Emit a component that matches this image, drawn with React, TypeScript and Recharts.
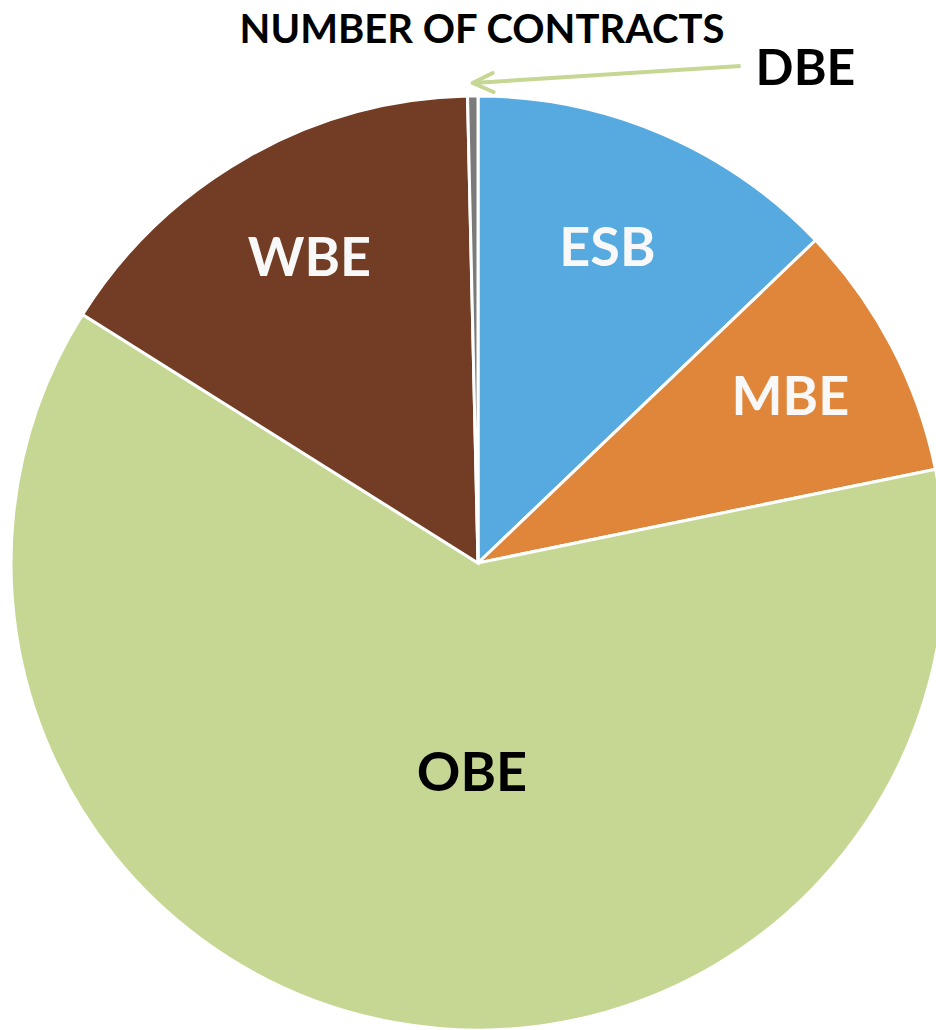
import React from "react"
import { Cell, Pie, PieChart } from "recharts"

// contract counts by business type (clockwise from 12 o'clock)
const categories = ["ESB", "MBE", "OBE", "WBE", "DBE"]
const contractCounts = [36, 25, 174, 44, 1]
const sliceColors = ["#56AADF", "#E0863A", "#C5D793", "#723D24", "#7B7B7B"]
const labelColors = ["#F8F8F8", "#F8F8F8", "#000000", "#F8F8F8", "#000000"]

const chartData = categories.map((name, i) => ({ name, value: contractCounts[i] }))

const RAD = Math.PI / 180
const FONT = "Lato, 'Open Sans', sans-serif"

// where each label sits: fraction of the radius and a small angle nudge
const labelPlacement: Record<string, { r: number; shift: number }> = {
  ESB: { r: 0.735, shift: 1 },
  MBE: { r: 0.76, shift: 0.7 },
  OBE: { r: 0.445, shift: 8.6 },
  WBE: { r: 0.75, shift: -0.8 },
}

function polar(cx: number, cy: number, r: number, angle: number) {
  return { x: cx + r * Math.cos(-angle * RAD), y: cy + r * Math.sin(-angle * RAD) }
}

function renderLabel(props: any) {
  const { cx, cy, midAngle, outerRadius, index } = props
  const name = categories[index]

  if (name === "DBE") {
    // outside callout with an arrow pointing at the thin slice
    const tip = polar(cx, cy, outerRadius + 13, midAngle)
    const tail = { x: tip.x + 268, y: tip.y - 17 }
    return (
      <g>
        <line x1={tail.x} y1={tail.y} x2={tip.x + 1} y2={tip.y} stroke="#C5D793" strokeWidth={4} />
        <polyline
          points={`${tip.x + 20},${tip.y - 10} ${tip.x},${tip.y} ${tip.x + 21},${tip.y + 9}`}
          fill="none"
          stroke="#C5D793"
          strokeWidth={4}
          strokeLinecap="round"
          strokeLinejoin="round"
        />
        <text
          x={tail.x + 15}
          y={tail.y + 6}
          fill="#000"
          fontFamily={FONT}
          fontWeight={700}
          fontSize={50}
          dominantBaseline="middle"
        >
          DBE
        </text>
      </g>
    )
  }

  const place = labelPlacement[name]
  const p = polar(cx, cy, outerRadius * place.r, midAngle + place.shift)
  return (
    <text
      x={p.x}
      y={p.y}
      fill={labelColors[index]}
      textAnchor="middle"
      dominantBaseline="central"
      fontFamily={FONT}
      fontWeight={700}
      fontSize={54}
    >
      {name}
    </text>
  )
}

export default function App() {
  return (
    <div style={{ position: "absolute", left: 0, top: 0, width: 936, height: 1030, background: "#fff", overflow: "hidden" }}>
      <div
        style={{
          position: "absolute",
          left: 0,
          top: 5,
          width: 964,
          textAlign: "center",
          fontFamily: FONT,
          fontWeight: 700,
          fontSize: 40,
          lineHeight: "46px",
          color: "#000",
        }}
      >
        NUMBER OF CONTRACTS
      </div>
      <PieChart width={936} height={1030} margin={{ top: 0, right: 0, bottom: 0, left: 0 }}>
        <Pie
          data={chartData}
          dataKey="value"
          nameKey="name"
          cx={478}
          cy={563}
          outerRadius={467}
          startAngle={90}
          endAngle={-270}
          stroke="#FFFFFF"
          strokeWidth={3}
          label={renderLabel}
          labelLine={false}
          isAnimationActive={false}
        >
          {chartData.map((d, i) => (
            <Cell key={d.name} fill={sliceColors[i]} />
          ))}
        </Pie>
      </PieChart>
    </div>
  )
}
